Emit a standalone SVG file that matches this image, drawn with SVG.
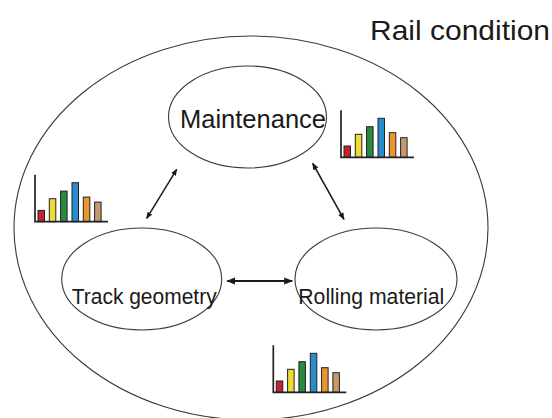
<svg xmlns="http://www.w3.org/2000/svg" width="552" height="418" viewBox="0 0 552 418">
<defs>
<style>
.ell{fill:none;stroke:#3a3a3a;stroke-width:1.1}
.node{fill:#fff;stroke:#3a3a3a;stroke-width:1.1}
.lbl{font-family:"Liberation Sans",Arial,sans-serif;fill:#1a1a1a}
.con{stroke:#1a1a1a;fill:none}
.ax{stroke:#222;stroke-width:1.7;fill:none}
.bar{stroke:#222;stroke-width:1}
</style>
<marker id="ah" viewBox="0 0 10 10" refX="9" refY="5" markerWidth="4.5" markerHeight="4.5" orient="auto-start-reverse" markerUnits="strokeWidth">
<path d="M0,1 L10,5 L0,9 z" fill="#1a1a1a"/>
</marker>
<g id="chart">
<rect class="bar" x="3" y="-11.3" width="6.5" height="11.3" fill="#c8202c"/>
<rect class="bar" x="14.3" y="-23" width="6.5" height="23" fill="#f0dc34"/>
<rect class="bar" x="25.6" y="-30.6" width="6.5" height="30.6" fill="#2a8a42"/>
<rect class="bar" x="37" y="-39" width="6.5" height="39" fill="#2a8ccc"/>
<rect class="bar" x="48.3" y="-24.6" width="6.5" height="24.6" fill="#ea962c"/>
<rect class="bar" x="59.6" y="-19.6" width="6.5" height="19.6" fill="#c49a6c"/>
<path class="ax" d="M0,-47 L0,0 L73,0"/>
</g>
</defs>
<rect width="552" height="418" fill="#fff"/>
<g id="rail-condition">
<ellipse class="ell" cx="251" cy="228" rx="237" ry="192"/>
<text class="lbl" x="370" y="40" font-size="28" textLength="180" lengthAdjust="spacingAndGlyphs">Rail condition</text>
</g>
<g id="connectors">
<line class="con" stroke-width="1.5" x1="176.7" y1="169.3" x2="146.7" y2="218.3" marker-start="url(#ah)" marker-end="url(#ah)"/>
<line class="con" stroke-width="1.6" x1="312.7" y1="163.3" x2="344" y2="219.3" marker-start="url(#ah)" marker-end="url(#ah)"/>
<line class="con" stroke-width="2" x1="227.3" y1="281" x2="292.3" y2="281" marker-start="url(#ah)" marker-end="url(#ah)"/>
</g>
<g id="maintenance">
<ellipse class="node" cx="247.5" cy="117" rx="79" ry="51"/>
<text class="lbl" x="180" y="128" font-size="25.5" textLength="146" lengthAdjust="spacingAndGlyphs">Maintenance</text>
</g>
<g id="track-geometry">
<ellipse class="node" cx="141.7" cy="279" rx="80" ry="51"/>
<text class="lbl" x="71.7" y="304" font-size="21.5" textLength="145" lengthAdjust="spacingAndGlyphs">Track geometry</text>
</g>
<g id="rolling-material">
<ellipse class="node" cx="376" cy="279" rx="81" ry="51"/>
<text class="lbl" x="298.3" y="304" font-size="21.5" textLength="146" lengthAdjust="spacingAndGlyphs">Rolling material</text>
</g>
<g id="chart-maintenance"><use href="#chart" x="341" y="157.3"/></g>
<g id="chart-track"><use href="#chart" x="35" y="221.7"/></g>
<g id="chart-rolling"><use href="#chart" x="273.3" y="392.3"/></g>
</svg>
